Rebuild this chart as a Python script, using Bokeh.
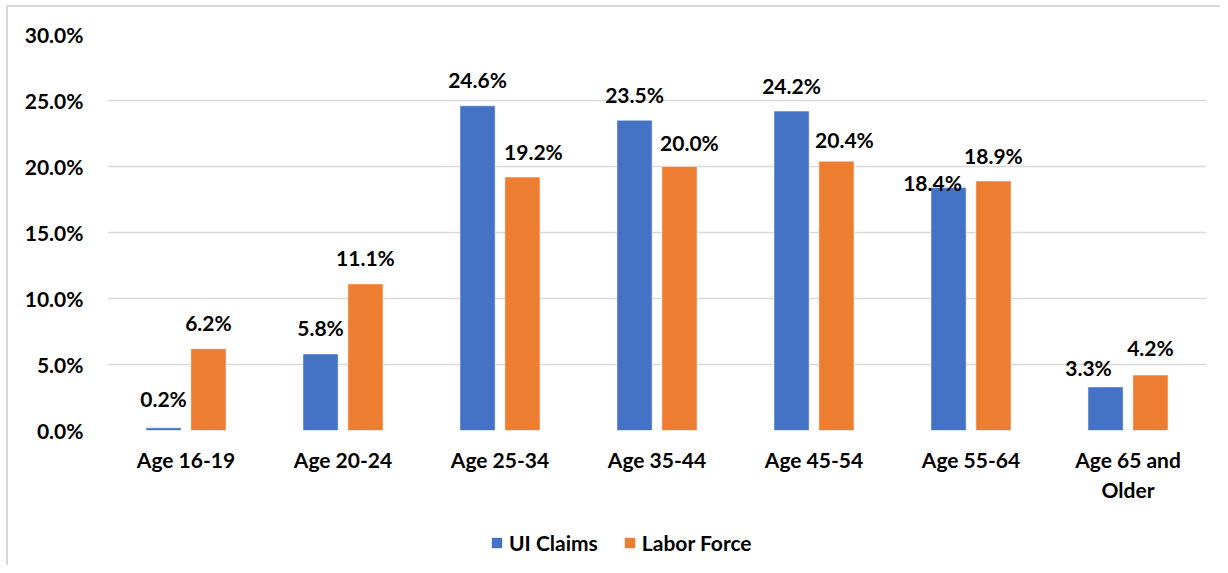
from bokeh.plotting import figure
from bokeh.layouts import column
from bokeh.models import (ColumnDataSource, FactorRange, Range1d, FixedTicker,
                          PrintfTickFormatter, Legend, LegendItem)
from bokeh.transform import dodge
from bokeh.core.properties import value
from bokeh.embed import file_html
from bokeh.resources import INLINE

categories = ["Age 16-19", "Age 20-24", "Age 25-34", "Age 35-44",
              "Age 45-54", "Age 55-64", "Age 65 and\nOlder"]
ui_claims = [0.2, 5.8, 24.6, 23.5, 24.2, 18.4, 3.3]
labor_force = [6.2, 11.1, 19.2, 20.0, 20.4, 18.9, 4.2]
series_names = ["UI Claims", "Labor Force"]
y_ticks = [0, 5, 10, 15, 20, 25, 30]

# label nudges (screen px) to mimic the reference's manual label placement
nudge_ui = {"Age 16-19": (0, -3), "Age 55-64": (-16, 21), "Age 65 and\nOlder": (-17, 7)}
nudge_lf = {"Age 25-34": (11, 0), "Age 35-44": (10, 2), "Age 45-54": (8, 4),
            "Age 65 and\nOlder": (0, -2)}

BLUE = "#4472C4"
ORANGE = "#ED7D31"
GRID = "#d9d9d9"
FONT = "Lato"

def make_source(vals, nudges):
    xo = [nudges.get(c, (0, 0))[0] for c in categories]
    yo = [-26 + nudges.get(c, (0, 0))[1] for c in categories]
    return ColumnDataSource(dict(cat=categories, val=vals,
                                 lab=[f"{v:.1f}%" for v in vals],
                                 xo=xo, yo=yo))

src_ui = make_source(ui_claims, nudge_ui)
src_lf = make_source(labor_force, nudge_lf)

OFF = 0.143
W = 0.224

p = figure(x_range=FactorRange(*categories, range_padding=0),
           y_range=Range1d(0, 30),
           width=1212, height=503, output_backend="svg",
           toolbar_location=None, tools="")
p.min_border_left = 99
p.min_border_right = 14
p.min_border_top = 27
p.min_border_bottom = 80
p.outline_line_color = None

p.vbar(x=dodge("cat", -OFF, range=p.x_range), top="val", width=W,
       source=src_ui, fill_color=BLUE, line_color="white", line_width=0.5)
p.vbar(x=dodge("cat", OFF, range=p.x_range), top="val", width=W,
       source=src_lf, fill_color=ORANGE, line_color="white", line_width=0.5)

for src, off in ((src_ui, -OFF), (src_lf, OFF)):
    p.text(x=dodge("cat", off, range=p.x_range), y="val", text="lab",
           x_offset="xo", y_offset="yo", source=src,
           text_align="center", text_baseline="alphabetic",
           text_font=value(FONT), text_font_style="bold",
           text_font_size="21px", text_color="black")

# axes
p.yaxis.ticker = FixedTicker(ticks=y_ticks)
p.yaxis.formatter = PrintfTickFormatter(format="%.1f%%")
for ax in (p.xaxis[0], p.yaxis[0]):
    ax.axis_line_color = None
    ax.major_tick_line_color = None
    ax.minor_tick_line_color = None
    ax.major_tick_out = 0
    ax.major_tick_in = 0
    ax.major_label_text_font = FONT
    ax.major_label_text_font_style = "bold"
    ax.major_label_text_font_size = "21px"
    ax.major_label_text_color = "black"
p.yaxis.major_label_standoff = 24
p.xaxis.major_label_standoff = 16

p.xgrid.grid_line_color = None
p.ygrid.grid_line_color = GRID
p.ygrid.grid_line_width = 1.5
p.ygrid.ticker = FixedTicker(ticks=y_ticks)

# legend strip below the chart (degenerate bars of the same data, out of view)
pl = figure(x_range=p.x_range, y_range=Range1d(1000, 1001),
            width=1212, height=55, output_backend="svg",
            toolbar_location=None, tools="")
pl.min_border = 0
pl.outline_line_color = None
pl.axis.visible = False
pl.grid.visible = False
l1 = pl.vbar(x=dodge("cat", -OFF, range=p.x_range), top="val", bottom="val",
             width=0, source=src_ui, fill_color=BLUE, line_color=None)
l2 = pl.vbar(x=dodge("cat", OFF, range=p.x_range), top="val", bottom="val",
             width=0, source=src_lf, fill_color=ORANGE, line_color=None)
legend = Legend(items=[LegendItem(label=series_names[0], renderers=[l1]),
                       LegendItem(label=series_names[1], renderers=[l2])],
                orientation="horizontal", location=(383, 10))
legend.glyph_width = 13
legend.glyph_height = 13
legend.label_standoff = 6
legend.spacing = 25
legend.padding = 0
legend.margin = 0
legend.border_line_color = None
legend.background_fill_alpha = 0
legend.label_text_font = FONT
legend.label_text_font_style = "bold"
legend.label_text_font_size = "21px"
legend.label_text_color = "black"
legend.label_height = 25
pl.add_layout(legend, "center")

layout = column(p, pl, spacing=0,
                styles={"border-left": "2px solid #d9d9d9",
                        "border-top": "2px solid #d9d9d9",
                        "margin-left": "6px", "margin-top": "5px"})
open("out.html", "w").write(file_html(layout, INLINE))
